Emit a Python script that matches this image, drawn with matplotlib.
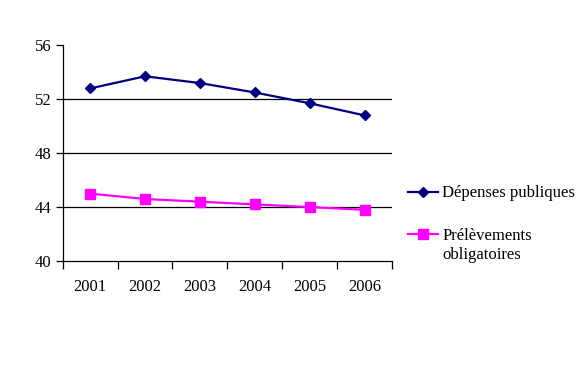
import numpy as np
import matplotlib.pyplot as plt
from matplotlib.ticker import FixedLocator

# data
years = ['2001', '2002', '2003', '2004', '2005', '2006']
depenses = [52.8, 53.7, 53.2, 52.5, 51.7, 50.8]
prelevements = [45.0, 44.6, 44.4, 44.2, 44.0, 43.8]
y_ticks = [40, 44, 48, 52, 56]

plt.rcParams['font.family'] = ['Liberation Serif', 'DejaVu Serif']
FS = 12

fig = plt.figure(figsize=(5.85, 3.67), dpi=100)
ax = fig.add_axes([0.1072, 0.2888, 0.5628, 0.5878])

x = np.arange(len(years))
ax.plot(x, depenses, color='#000080', marker='D', markersize=5.5, linewidth=1.6,
        label='Dépenses publiques')
ax.plot(x, prelevements, color='#FF00FF', marker='s', markersize=6.5, linewidth=1.6,
        label='Prélèvements')

ax.set_xlim(-0.5, len(years) - 0.5)
ax.set_ylim(40, 56)
ax.set_yticks(y_ticks)
ax.set_yticklabels([str(v) for v in y_ticks], fontsize=FS)
for v in y_ticks[1:-1]:
    ax.axhline(v, color='black', linewidth=0.9, zorder=0)

ax.set_xticks(x)
ax.set_xticklabels(years, fontsize=FS)
ax.xaxis.set_minor_locator(FixedLocator(np.arange(-0.5, len(years), 1.0)))
ax.tick_params(axis='x', which='major', length=0, pad=13)
ax.tick_params(axis='x', which='minor', length=6, width=0.9, direction='out')
ax.tick_params(axis='y', length=5, width=0.9, direction='out', pad=3)

for side in ['top', 'right']:
    ax.spines[side].set_visible(False)
for side in ['left', 'bottom']:
    ax.spines[side].set_linewidth(0.9)

leg = fig.legend(loc='upper left', bbox_to_anchor=(0.686, 0.513), frameon=False,
                 fontsize=FS, handlelength=1.8, handletextpad=0.25, labelspacing=1.6,
                 borderaxespad=0)

# second line of the "Prélèvements obligatoires" label, under the first
fig.canvas.draw()
bb = leg.get_texts()[1].get_window_extent()
fig.text(bb.x0, bb.y0 - 19, 'obligatoires', fontsize=FS, ha='left', va='bottom',
         transform=None)

fig.savefig('out.png', dpi=100)
